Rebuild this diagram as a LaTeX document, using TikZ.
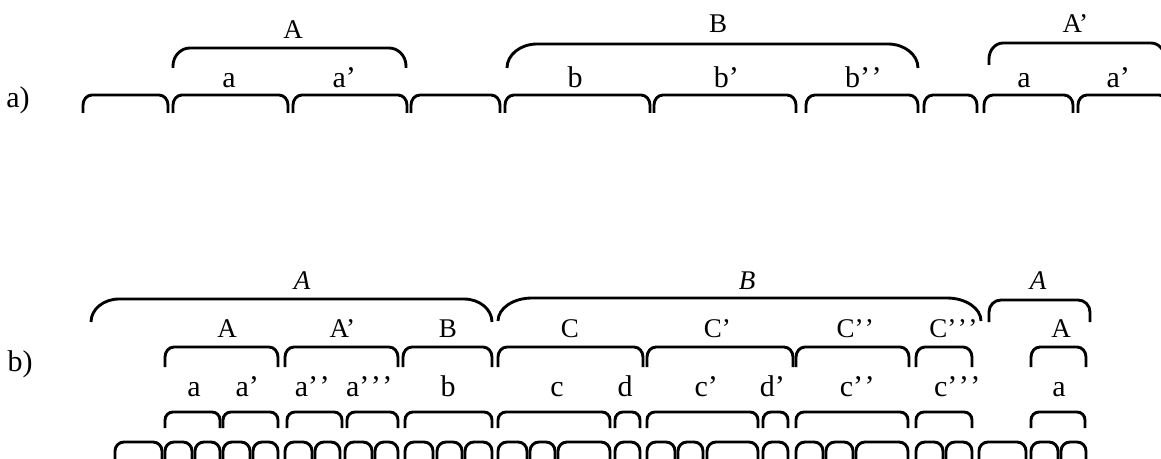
\documentclass[tikz,border=0pt]{standalone}
\usepackage{fontspec}
\setmainfont{Liberation Serif}
\tikzset{
    grpline/.style={line width=1.15pt, black},
    caplbl/.style={anchor=base, inner sep=0pt, font=\fontsize{10.8}{13}\selectfont},
    smalllbl/.style={anchor=base, inner sep=0pt, font=\fontsize{12}{14}\selectfont},
    toplbl/.style={anchor=base, inner sep=0pt, font=\fontsize{10.8}{13}\selectfont\itshape},
}
% group bracket: left, right, top, bottom, corner width, corner height
\newcommand{\grp}[6]{%
  \draw[grpline] (#1,#4) -- (#1,{#3+#6})
    .. controls (#1,{#3+0.448*#6}) and ({#1+0.448*#5},#3) .. ({#1+#5},#3)
    -- ({#2-#5},#3)
    .. controls ({#2-0.448*#5},#3) and (#2,{#3+0.448*#6}) .. (#2,{#3+#6})
    -- (#2,#4);}
\newcommand{\pr}{’\kern0.6pt}

\begin{document}
\begin{tikzpicture}[x=0.4pt,y=-0.4pt]
    \clip (0,0) rectangle (1161,459);

    % a)
    \node[smalllbl] (rowa) at (18,108) {a)};
    \foreach \l/\r in {83/168,173/288,293/407,411/500,505/650,654/796,806/918,924/977,984/1073,1078/1168}
        \grp{\l}{\r}{95}{113}{9}{10};
    \grp{173}{406}{48}{68}{17}{18}
    \grp{507}{918}{44}{68}{30}{24}
    \grp{989}{1165}{43}{65}{14}{16}

    \node[caplbl] (aA) at (293,39) {A};
    \node[caplbl] (aB) at (718,33) {B};
    \node[caplbl] (aAp) at (1076,33) {A\pr};
    \node[smalllbl] (aa) at (229,88) {a};
    \node[smalllbl] (aap) at (345,88) {a\pr};
    \node[smalllbl] (ab) at (575,88) {b};
    \node[smalllbl] (abp) at (727,88) {b\pr};
    \node[smalllbl] (abpp) at (864,88) {b\pr\pr};
    \node[smalllbl] (aa2) at (1024,88) {a};
    \node[smalllbl] (aap2) at (1119,88) {a\pr};

    % b)
    \node[smalllbl] (rowb) at (20,371) {b)};
    \grp{91}{492}{299}{322}{28}{23}
    \grp{498}{981}{298}{321}{34}{23}
    \grp{989}{1090}{300}{322}{12}{12}
    \foreach \l/\r in {165/278,285/398,403/492,498/643,647/793,796/909,916/972,1031/1086}
        \grp{\l}{\r}{347}{367}{9}{10};
    \foreach \l/\r in {165/220,223/278,287/342,347/398,405/492,498/610,615/640,647/758,763/788,796/908,916/972,1031/1085}
        \grp{\l}{\r}{412}{428}{8}{8};
    \foreach \l/\r in {115/162,165/192,195/220,223/250,253/278,285/312,315/340,345/372,375/398,405/433,437/462,465/492,498/527,530/555,558/610,615/640,647/675,678/703,707/758,763/788,796/823,826/853,856/908,916/943,946/972,979/1026,1031/1058,1061/1086}
        \grp{\l}{\r}{442}{475}{9}{9};

    \node[toplbl] (bA) at (302,289) {A};
    \node[toplbl] (bB) at (747,289) {B};
    \node[toplbl] (bA2) at (1038,289) {A};

    \node[caplbl] (bgA) at (227,337) {A};
    \node[caplbl] (bgAp) at (343,337) {A\pr};
    \node[caplbl] (bgB) at (448,337) {B};
    \node[caplbl] (bgC) at (570,337) {C};
    \node[caplbl] (bgCp) at (718,337) {C\pr};
    \node[caplbl] (bgCpp) at (856,337) {C\pr\pr};
    \node[caplbl] (bgCppp) at (954,337) {C\pr\pr\pr};
    \node[caplbl] (bgA2) at (1061,337) {A};

    \node[smalllbl] (ba) at (194,397) {a};
    \node[smalllbl] (bap) at (248,397) {a\pr};
    \node[smalllbl] (bapp) at (313,397) {a\pr\pr};
    \node[smalllbl] (bappp) at (370,397) {a\pr\pr\pr};
    \node[smalllbl] (bb) at (448,397) {b};
    \node[smalllbl] (bc) at (557,397) {c};
    \node[smalllbl] (bd) at (625,397) {d};
    \node[smalllbl] (bcp) at (707,397) {c\pr};
    \node[smalllbl] (bdp) at (773,397) {d\pr};
    \node[smalllbl] (bcpp) at (858,397) {c\pr\pr};
    \node[smalllbl] (bcppp) at (958,397) {c\pr\pr\pr};
    \node[smalllbl] (ba2) at (1059,397) {a};
\end{tikzpicture}
\end{document}
